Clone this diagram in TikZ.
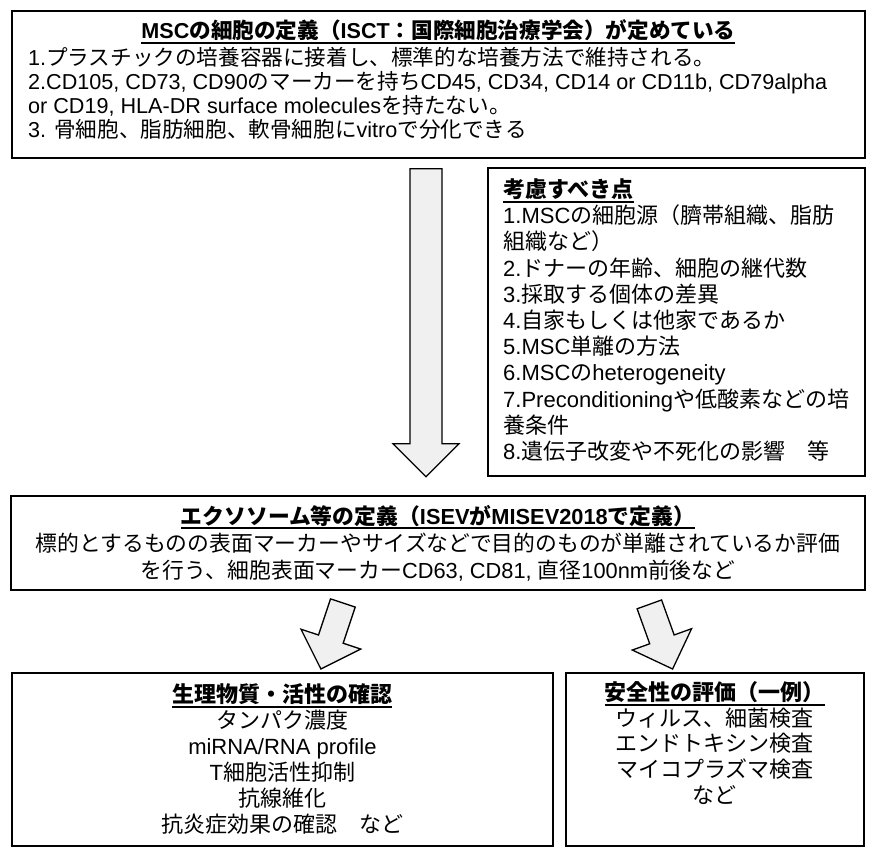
\documentclass[tikz,border=0pt]{standalone}
\usepackage{fontspec}
\usetikzlibrary{positioning}
\setmainfont{Liberation Sans}
\newfontfamily\jpfont{Noto Sans CJK JP}
% Japanese characters switch to \jpfont by themselves
\newXeTeXintercharclass\jpclass
\newcount\jpchar
\newcommand\jprange[2]{%
  \jpchar=#1
  \loop
    \XeTeXcharclass\jpchar=\jpclass
  \ifnum\jpchar<#2 \advance\jpchar by 1 \repeat}
\jprange{"3000}{"30FF}
\jprange{"4E00}{"9FFF}
\jprange{"FF00}{"FFEF}
\XeTeXinterchartoks 0 \jpclass = {\begingroup\jpfont}
\XeTeXinterchartoks 4095 \jpclass = {\begingroup\jpfont}
\XeTeXinterchartoks \jpclass 0 = {\endgroup}
\XeTeXinterchartoks \jpclass 4095 = {\endgroup}
\XeTeXinterchartokenstate=1
\newcommand\boxtitle[1]{\setbox0=\hbox{\bfseries #1}\rlap{\rule[-5pt]{\wd0}{1.6pt}}\box0}
\tikzset{
  shaft half/.store in=\shafthw, shaft half=13,
  head half/.store in=\headhw, head half=31.5,
  blockarrow/.pic={
    \draw[draw, line width=1.3pt, fill=gray!12, line join=miter] (0,0) -- (-\headhw,\headhw) -- (-\shafthw,\headhw) -- (-\shafthw,#1) -- (\shafthw,#1) -- (\shafthw,\headhw) -- (\headhw,\headhw) -- cycle;
  }
}
\begin{document}
\begin{tikzpicture}[x=1pt, y=1pt,
  panel/.style={draw, line width=1.8pt, inner sep=0pt},
  body/.style={inner sep=0pt, font=\fontsize{22}{26.2}\selectfont}]
\useasboundingbox (0,0) rectangle (874,-856);

% MSC definition
\node[panel, anchor=north west, minimum width=853pt, minimum height=147pt] (def) at (11,-10) {};
\node[below=9.5pt of def.north, inner sep=0pt, font=\fontsize{21.6}{24}\selectfont] (deftitle) {\boxtitle{MSCの細胞の定義（ISCT：国際細胞治療学会）が定めている}};
\node[below right=36.7pt and 17pt of def.north west, body, align=left, font=\fontsize{21.6}{24}\selectfont] (defbody) {1.プラスチックの培養容器に接着し、標準的な培養方法で維持される。\\
2.CD105, CD73, CD90のマーカーを持ちCD45, CD34, CD14 or CD11b, CD79alpha\\
or CD19, HLA-DR surface moleculesを持たない。\\
3. 骨細胞、脂肪細胞、軟骨細胞にvitroで分化できる};

% points to consider
\node[panel, anchor=north west, minimum width=377pt, minimum height=308pt] (cons) at (487,-167) {};
\node[below right=11.5pt and 16pt of cons.north west, body, align=left] (constext) {\boxtitle{考慮すべき点}\\
1.MSCの細胞源（臍帯組織、脂肪\\
組織など）\\
2.ドナーの年齢、細胞の継代数\\
3.採取する個体の差異\\
4.自家もしくは他家であるか\\
5.MSC単離の方法\\
6.MSCのheterogeneity\\
7.Preconditioningや低酸素などの培\\
養条件\\
8.遺伝子改変や不死化の影響　等};
\pic[shaft half=16, head half=33] at ([xshift=-61pt]cons.south west) {blockarrow=308};

% exosome definition
\node[panel, anchor=north west, minimum width=854pt, minimum height=94pt, align=center, font=\fontsize{21.8}{27}\selectfont] (exo) at (10,-495) {\boxtitle{エクソソーム等の定義（ISEVがMISEV2018で定義）}\\
標的とするものの表面マーカーやサイズなどで目的のものが単離されているか評価\\
を行う、細胞表面マーカーCD63, CD81, 直径100nm前後など};

% bioactivity and safety
\node[panel, anchor=north west, minimum width=541pt, minimum height=173pt, align=center, font=\fontsize{22}{26}\selectfont] (bio) at (11,-672) {\boxtitle{生理物質・活性の確認}\\
タンパク濃度\\
miRNA/RNA profile\\
T細胞活性抑制\\
抗線維化\\
抗炎症効果の確認　など};
\node[panel, anchor=north west, minimum width=298pt, minimum height=173pt] (safe) at (565,-672) {};
\node[below=9.5pt of safe.north, body, align=center, font=\fontsize{22}{25.6}\selectfont] (safetext) {\boxtitle{安全性の評価（一例）}\\
ウィルス、細菌検査\\
エンドトキシン検査\\
マイコプラズマ検査\\
など};
\pic[rotate=-18.4] at ([xshift=38.5pt, yshift=3pt]bio.north) {blockarrow=69.6};
\pic[rotate=19.8] at ([xshift=-42.3pt, yshift=3pt]safe.north) {blockarrow=68.7};
\end{tikzpicture}
\end{document}
